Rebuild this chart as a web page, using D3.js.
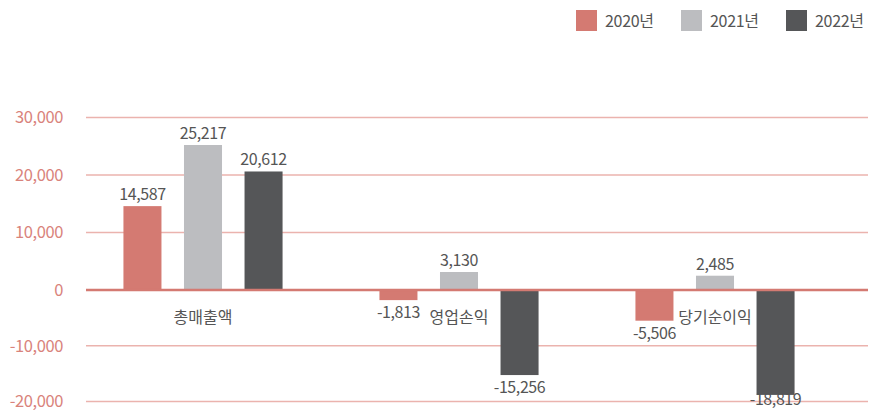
<!DOCTYPE html>
<html><head><meta charset="utf-8">
<script src="https://cdn.jsdelivr.net/npm/d3@7"></script>
<style>body{margin:0;background:#fff}svg{display:block;font-family:"Noto Sans CJK KR","Noto Sans",sans-serif}</style>
</head><body>
<svg id="c" width="871" height="411"></svg>
<script>
const categories = ["총매출액", "영업손익", "당기순이익"];
const seriesNames = ["2020년", "2021년", "2022년"];
const values2020 = [14587, -1813, -5506];
const values2021 = [25217, 3130, 2485];
const values2022 = [20612, -15256, -18819];
const yTicks = [-20000, -10000, 0, 10000, 20000, 30000];
const colors = ["#d47a72", "#bcbdc0", "#555658"];

const seriesValues = [values2020, values2021, values2022];
const svg = d3.select("#c");
const y = d3.scaleLinear().domain([-20000, 0, 30000]).range([401.5, 290, 117.5]);
const x0 = d3.scaleBand().domain(categories).range([75, 843]);
const x1 = d3.scaleBand().domain(seriesNames).range([0, x0.bandwidth()]).paddingInner(0.372).paddingOuter(0.8);
const fmt = v => d3.format(",")(v).replace("−", "-");

// grid
svg.append("g").selectAll("line").data(yTicks.filter(d => d !== 0)).join("line")
  .attr("x1", 86).attr("x2", 868)
  .attr("y1", d => y(d)).attr("y2", d => y(d))
  .attr("stroke", "#ebb3ae").attr("stroke-width", 1.3);

// y labels
svg.append("g").selectAll("text").data(yTicks).join("text")
  .attr("x", 63).attr("y", d => y(d)).attr("dy", "0.35em")
  .attr("text-anchor", "end").attr("fill", "#d9837b").attr("font-size", 16.5)
  .attr("letter-spacing", "-0.4")
  .text(d => fmt(d));

// bars
const g = svg.append("g");
categories.forEach((c, ci) => {
  seriesNames.forEach((s, si) => {
    const v = seriesValues[si][ci];
    const bx = x0(c) + x1(s);
    g.append("rect")
      .attr("x", bx).attr("width", x1.bandwidth())
      .attr("y", y(Math.max(0, v))).attr("height", Math.abs(y(v) - y(0)))
      .attr("fill", colors[si]);
    g.append("text")
      .attr("x", bx + x1.bandwidth() / 2)
      .attr("y", v >= 0 ? y(v) - 6 : Math.min(y(v) + 18, 405))
      .attr("text-anchor", "middle").attr("fill", "#555").attr("font-size", 16)
      .attr("letter-spacing", "-0.4")
      .text(fmt(v));
  });
});

// zero line
svg.append("line").attr("x1", 86).attr("x2", 868).attr("y1", y(0)).attr("y2", y(0))
  .attr("stroke", "#d47a72").attr("stroke-width", 2.5);

// category labels
svg.append("g").selectAll("text").data(categories).join("text")
  .attr("x", d => x0(d) + x0.bandwidth() / 2).attr("y", y(0) + 33)
  .attr("text-anchor", "middle").attr("fill", "#555").attr("font-size", 16)
  .text(d => d);

// legend
const legX = [576, 681, 786];
seriesNames.forEach((s, i) => {
  svg.append("rect").attr("x", legX[i]).attr("y", 10).attr("width", 21).attr("height", 21).attr("fill", colors[i]);
  svg.append("text").attr("x", legX[i] + 29).attr("y", 21).attr("dy", "0.35em")
    .attr("fill", "#555").attr("font-size", 16).attr("letter-spacing", "-0.3").text(s);
});
</script>
</body></html>
